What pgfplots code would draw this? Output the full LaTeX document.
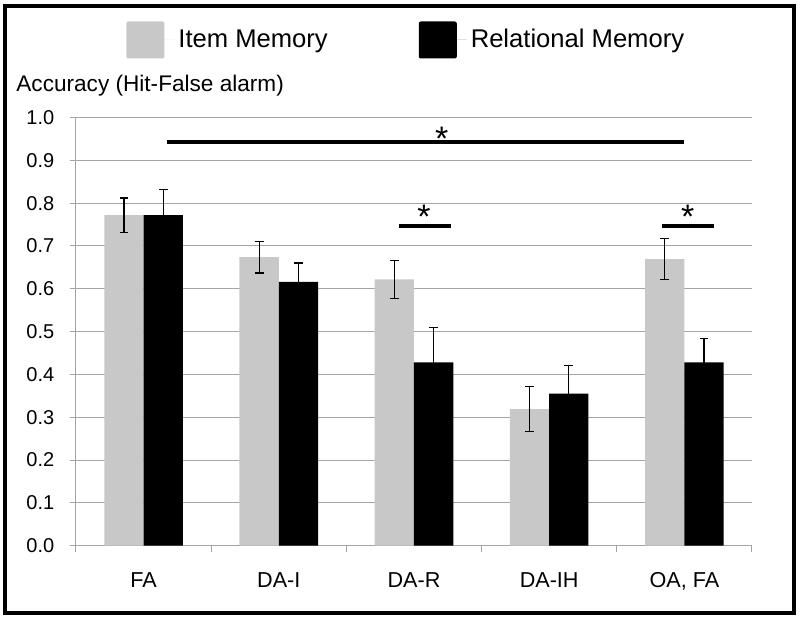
\documentclass[border=0pt]{standalone}
\usepackage{fontspec}
\setmainfont{Liberation Sans}
\usepackage{pgfplots}
\pgfplotsset{compat=1.18}
\definecolor{itemgray}{RGB}{200,200,200}
\definecolor{gridgray}{RGB}{165,165,165}
\begin{document}
\begin{tikzpicture}
\useasboundingbox (-38pt,-36.15pt) rectangle (362pt,272.85pt);
\draw[line width=2pt] (-35.65pt,-33.5pt) rectangle (358.85pt,270pt);
\begin{axis}[
  at={(0,0)}, anchor=south west,
  scale only axis, width=338pt, height=214.1pt,
  xmin=-0.5, xmax=4.5, ymin=0, ymax=1,
  clip=false,
  ybar=0pt, bar width=19.65pt,
  axis x line*=bottom, axis y line*=left,
  axis line style={gridgray, line width=0.5pt},
  /pgf/number format/assume math mode=true,
  ytick={0,0.1,0.2,0.3,0.4,0.5,0.6,0.7,0.8,0.9,1.0},
  yticklabel style={/pgf/number format/.cd, fixed, fixed zerofill, precision=1, /tikz/.cd,
     font=\fontsize{10}{12}\selectfont, anchor=east, inner sep=0pt, xshift=-7.5pt},
  ymajorgrids, grid style={gridgray, line width=0.5pt},
  tick align=outside, major tick length=3.2pt,
  tick style={gridgray, line width=0.5pt},
  xtick={-0.5,0.5,1.5,2.5,3.5,4.5},
  xticklabels={,,,,,},
  extra x ticks={0,1,2,3,4},
  extra x tick labels={FA,DA-I,DA-R,DA-IH,{OA, FA}},
  extra x tick style={major tick length=0pt},
  xticklabel style={font=\fontsize{10.8}{13}\selectfont, anchor=base, inner sep=0pt, yshift=-20.65pt},
  ylabel={Accuracy (Hit-False alarm)},
  every axis y label/.style={at={(rel axis cs:0,1)}, anchor=base west, xshift=-30pt, yshift=12.8pt,
     inner sep=0pt, font=\fontsize{11.3}{13}\selectfont},
  legend columns=2,
  legend style={draw=none, fill=none, at={(0.074,1.181)}, anchor=west, inner sep=0pt,
     font=\fontsize{12.8}{15}\selectfont,
     /tikz/every even column/.append style={column sep=43.5pt}},
  legend cell align=left,
]
\addplot[fill=itemgray, draw=none,
  legend image code/.code={\fill[itemgray, rounded corners=1pt] (0pt,-9.25pt) rectangle (19pt,9.25pt); \path (0pt,0pt) -- (24pt,0pt);},
  error bars/.cd, y dir=both, y explicit,
  error bar style={black, line width=0.6pt},
  error mark options={rotate=90, mark size=2.2pt, line width=0.6pt, black}]
  coordinates {
  (0,0.772) +- (0,0.040)
  (1,0.674) +- (0,0.037)
  (2,0.622) +- (0,0.044)
  (3,0.319) +- (0,0.052)
  (4,0.669) +- (0,0.048)
  };
\addlegendentry{Item Memory}
\addplot[fill=black, draw=none,
  legend image code/.code={\fill[black, rounded corners=1pt] (0pt,-9.25pt) rectangle (19pt,9.25pt); \path (0pt,0pt) -- (24pt,0pt);},
  error bars/.cd, y dir=both, y explicit,
  error bar style={black, line width=0.6pt},
  error mark options={rotate=90, mark size=2.2pt, line width=0.6pt, black}]
  coordinates {
  (0,0.772) +- (0,0.059)
  (1,0.616) +- (0,0.044)
  (2,0.428) +- (0,0.082)
  (3,0.355) +- (0,0.066)
  (4,0.428) +- (0,0.056)
  };
\addlegendentry{Relational Memory}
\addplot[sharp plot, black, line width=2.2pt, forget plot] coordinates {(0.17,0.943) (4.0,0.943)};
\addplot[sharp plot, black, line width=2.2pt, forget plot] coordinates {(1.89,0.747) (2.27,0.747)};
\addplot[sharp plot, black, line width=2.2pt, forget plot] coordinates {(3.834,0.747) (4.219,0.747)};
\node[anchor=base, inner sep=0pt, font=\fontsize{17}{17}\selectfont] at (axis cs:2.205,0.923) {*};
\node[anchor=base, inner sep=0pt, font=\fontsize{17}{17}\selectfont] at (axis cs:2.074,0.740) {*};
\node[anchor=base, inner sep=0pt, font=\fontsize{17}{17}\selectfont] at (axis cs:4.024,0.740) {*};
\end{axis}
\end{tikzpicture}
\end{document}
